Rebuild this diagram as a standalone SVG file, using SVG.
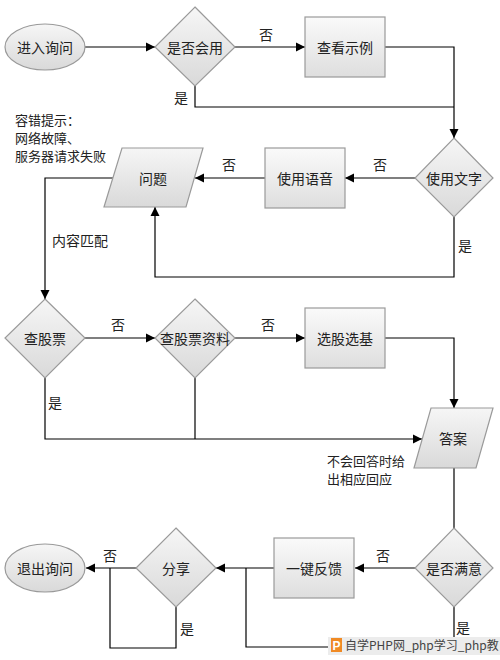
<svg xmlns="http://www.w3.org/2000/svg" width="500" height="660" viewBox="0 0 500 660">
<style>
.n{stroke:#9a9a9a;stroke-width:1.2}
.t{font-family:"Noto Sans CJK SC","Liberation Sans",sans-serif;font-size:14px;fill:#222;text-anchor:middle;dominant-baseline:central}
.l{font-family:"Noto Sans CJK SC","Liberation Sans",sans-serif;font-size:14px;fill:#222}
.m{font-family:"Noto Sans CJK SC","Liberation Sans",sans-serif;font-size:13px;fill:#222}
.c{fill:none;stroke:#000;stroke-width:1.2}
</style>
<defs>
<linearGradient id="g" x1="0" y1="0" x2="0" y2="1"><stop offset="0" stop-color="#f6f6f6"/><stop offset="1" stop-color="#d9d9d9"/></linearGradient>
<linearGradient id="gr" x1="0" y1="0" x2="0" y2="1"><stop offset="0" stop-color="#fafafa"/><stop offset="1" stop-color="#dedede"/></linearGradient>
<marker id="a" viewBox="0 0 10 10" refX="10" refY="5" markerWidth="9" markerHeight="10" markerUnits="userSpaceOnUse" orient="auto"><path d="M0,0L10,5L0,10z" fill="#000"/></marker>
</defs>
<rect width="500" height="660" fill="#fff"/>
<g id="connectors">
<path class="c" d="M85,47H155" marker-end="url(#a)"/>
<path class="c" d="M235,47H305" marker-end="url(#a)"/>
<path class="c" d="M385,47H454V138" marker-end="url(#a)"/>
<path class="c" d="M195,86V107H454"/>
<path class="c" d="M415,178H345" marker-end="url(#a)"/>
<path class="c" d="M265,178H195" marker-end="url(#a)"/>
<path class="c" d="M454,217V277H155V207" marker-end="url(#a)"/>
<path class="c" d="M113,178H45V299" marker-end="url(#a)"/>
<path class="c" d="M85,338H155" marker-end="url(#a)"/>
<path class="c" d="M235,338H305" marker-end="url(#a)"/>
<path class="c" d="M385,338H454V408" marker-end="url(#a)"/>
<path class="c" d="M45,378V439H422" marker-end="url(#a)"/>
<path class="c" d="M195,378V439"/>
<path class="c" d="M454,468V528"/>
<path class="c" d="M415,568H355" marker-end="url(#a)"/>
<path class="c" d="M274,568H216" marker-end="url(#a)"/>
<path class="c" d="M454,607V647H246V568"/>
<path class="c" d="M136,568H86" marker-end="url(#a)"/>
<path class="c" d="M176,607V648H110V568"/>
</g>
<g id="labels">
<text class="l" x="259" y="40">否</text>
<text class="l" x="174" y="103">是</text>
<text class="l" x="373" y="170">否</text>
<text class="l" x="222" y="170">否</text>
<text class="l" x="458" y="251">是</text>
<text class="l" x="52" y="246">内容匹配</text>
<text class="m" x="15" y="125">容错提示：</text>
<text class="m" x="15" y="143">网络故障、</text>
<text class="m" x="15" y="161">服务器请求失败</text>
<text class="l" x="111" y="330">否</text>
<text class="l" x="261" y="330">否</text>
<text class="l" x="48" y="408">是</text>
<text class="m" x="327" y="466">不会回答时给</text>
<text class="m" x="327" y="484">出相应回应</text>
<text class="l" x="376" y="561">否</text>
<text class="l" x="103" y="561">否</text>
<text class="l" x="456" y="633">是</text>
<text class="l" x="180" y="634">是</text>
</g>
<g id="n-start"><ellipse class="n" cx="45" cy="47" rx="40" ry="23" fill="url(#g)"/><text class="t" x="45" y="47">进入询问</text></g>
<g id="n-q1"><path class="n" d="M195,7L235,47L195,86L155,47z" fill="url(#g)"/><text class="t" x="195" y="47">是否会用</text></g>
<g id="n-example"><rect class="n" x="305" y="17" width="80" height="60" fill="url(#gr)"/><text class="t" x="345" y="47">查看示例</text></g>
<g id="n-text"><path class="n" d="M454,138L493,178L454,217L415,178z" fill="url(#g)"/><text class="t" x="454" y="178">使用文字</text></g>
<g id="n-voice"><rect class="n" x="265" y="148" width="80" height="60" fill="url(#gr)"/><text class="t" x="305" y="178">使用语音</text></g>
<g id="n-question"><path class="n" d="M122,148H203L186,207H104z" fill="url(#g)"/><text class="t" x="153" y="178">问题</text></g>
<g id="n-stock"><path class="n" d="M45,299L85,338L45,378L5,338z" fill="url(#g)"/><text class="t" x="45" y="338">查股票</text></g>
<g id="n-stockinfo"><path class="n" d="M195,299L235,338L195,378L155,338z" fill="url(#g)"/><text class="t" x="195" y="338">查股票资料</text></g>
<g id="n-pick"><rect class="n" x="305" y="308" width="80" height="60" fill="url(#gr)"/><text class="t" x="345" y="338">选股选基</text></g>
<g id="n-answer"><path class="n" d="M431,408H493L476,468H414z" fill="url(#g)"/><text class="t" x="453" y="438">答案</text></g>
<g id="n-satisfied"><path class="n" d="M454,528L493,568L454,607L415,568z" fill="url(#g)"/><text class="t" x="454" y="568">是否满意</text></g>
<g id="n-feedback"><rect class="n" x="274" y="538" width="80" height="60" fill="url(#gr)"/><text class="t" x="314" y="568">一键反馈</text></g>
<g id="n-share"><path class="n" d="M176,528L216,568L176,607L136,568z" fill="url(#g)"/><text class="t" x="176" y="568">分享</text></g>
<g id="n-end"><ellipse class="n" cx="45" cy="568" rx="40" ry="24" fill="url(#g)"/><text class="t" x="45" y="568">退出询问</text></g>
<g id="watermark">
<rect x="328" y="637" width="172" height="18" fill="#ececec"/>
<rect x="331" y="638" width="11" height="14" fill="#f08a24"/>
<text x="336.5" y="649.5" font-family="Liberation Sans,sans-serif" font-size="12" font-weight="bold" fill="#fff" text-anchor="middle">P</text>
<text x="345" y="650" font-family="Noto Sans CJK SC,Liberation Sans,sans-serif" font-size="12" fill="#444">自学PHP网_php学习_php教</text>
</g>
</svg>
